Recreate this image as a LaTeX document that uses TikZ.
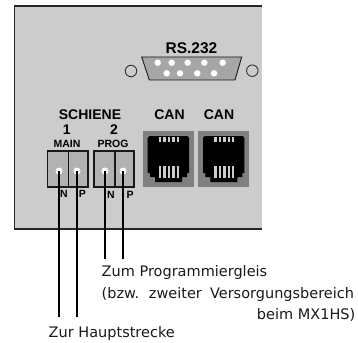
\documentclass[tikz,border=0pt]{standalone}
\usepackage{fontspec}
\setmainfont{Liberation Sans}
\newfontfamily\notefont{DejaVu Sans}
\definecolor{panelgray}{HTML}{CCCCCC}
\definecolor{termgray}{HTML}{B2B2B2}
\definecolor{jackgray}{HTML}{808080}
\definecolor{subgray}{HTML}{A6A6A6}
\tikzset{
  lab/.style={font=\bfseries\fontsize{14}{14}\selectfont,inner sep=0pt,text=black},
  small/.style={font=\bfseries\fontsize{10.5}{10.5}\selectfont,inner sep=0pt,text=black},
  note/.style={font=\notefont\fontsize{14.5}{14.5}\selectfont,inner sep=0pt,anchor=base west,text=black!90},
  hole/.style={circle,fill=white,draw=none,minimum size=7pt,inner sep=0pt},
  ring/.style={circle,draw=black!80,line width=0.9pt,fill=none,minimum size=11.5pt,inner sep=0pt},
  wire/.style={line width=1.3pt,black},
  term/.style={draw=black!90,line width=1.1pt,fill=termgray},
}
\newcommand{\jack}[2]{%
  \fill[jackgray] (#1,#2) rectangle ++(51,55.7);
  \fill[black] (#1+4.7,#2+7) -- (#1+6.5,#2+5) -- (#1+44.5,#2+5) -- (#1+46,#2+7) -- (#1+46,#2+42)
    -- (#1+44,#2+42) -- (#1+44,#2+46) -- (#1+39,#2+46) -- (#1+39,#2+51) -- (#1+12,#2+51)
    -- (#1+12,#2+46) -- (#1+7,#2+46) -- (#1+7,#2+42) -- (#1+4.7,#2+42) -- cycle;
  \foreach \k in {0,...,4}{
    \fill[panelgray] (#1+16+\k*4.4,#2+6) rectangle ++(2.4,5);
    \fill[panelgray] (#1+16+\k*4.4,#2+35) rectangle ++(2.4,11.7);
  }
}
\begin{document}
\begin{tikzpicture}[x=1pt,y=-1pt]
\useasboundingbox (0,0) rectangle (358,342);
\coordinate (pTL) at (14.5,6);
\coordinate (pTR) at (262,6);
\coordinate (pBL) at (14.5,229);
\coordinate (pBR) at (262,229);
\fill[panelgray] (pTL) rectangle (pBR);
\draw[black!85,line width=1.3pt] (pTR) -- (pTL) -- (pBL) -- (pBR);
% RS232
\node[lab,font=\bfseries\fontsize{15.5}{15.5}\selectfont] (rs) at (191.5,48) {RS.232};
\fill[subgray,draw=black!90,line width=0.9pt] (141.7,57) -- (241.7,57) -- (235,80) -- (149.3,80) -- cycle;
\foreach \x in {157.7,171.7,187.7,204.3,222.7}{\node[hole,minimum size=6.5pt] at (\x,62.7) {};}
\foreach \x in {166.7,180,197.3,214}{\node[hole,minimum size=6.5pt] at (\x,73.3) {};}
\node[ring] (r1) at (131,71) {};
\node[ring] (r2) at (252.3,70.7) {};
% labels
\node[lab] (sch) at (90,115) {SCHIENE};
\node[lab] (one) at (66.7,130) {1};
\node[lab] (two) at (114,130) {2};
\node[small] (main) at (67,144) {MAIN};
\node[small] (prog) at (113,144) {PROG};
\node[lab] (can1) at (169.5,114.5) {CAN};
\node[lab] (can2) at (219,114.5) {CAN};
% terminals
\draw[term] (47.7,151) rectangle (88,187);
\draw[black!90,line width=0.8pt] (68.7,151) -- (68.7,187);
\draw[term] (94,151) rectangle (134,187);
\draw[black!90,line width=1.1pt] (115,151) -- (115,187);
\node[hole] (h1) at (59,171) {};
\node[hole] (h2) at (77,171) {};
\node[hole] (h3) at (105,171) {};
\node[hole] (h4) at (123,171) {};
\node[small] at (64,194) {N};
\node[small] at (82.5,194) {P};
\node[small] at (111,195) {N};
\node[small] at (130,195) {P};
\jack{143}{131}
\jack{198.3}{131}
% wires
\coordinate (w1) at (59,317);
\coordinate (w2) at (77,317);
\coordinate (w3) at (105,259);
\coordinate (w4) at (123,259);
\draw[wire] (h1.center) -- (w1);
\draw[wire] (h2.center) -- (w2);
\draw[wire] (h3.center) -- (w3);
\draw[wire] (h4.center) -- (w4);
% notes
\node[note] (n1) at (101.5,276) {Zum Programmiergleis};
\node[note] (n2) at (101.5,298) {(bzw.\hspace{3.5pt} zweiter\hspace{3.5pt} Versorgungsbereich};
\node[note,anchor=base east] (n3) at (355.5,319) {beim MX1HS)};
\node[note] (n4) at (48.5,337) {Zur Hauptstrecke};
\end{tikzpicture}
\end{document}
